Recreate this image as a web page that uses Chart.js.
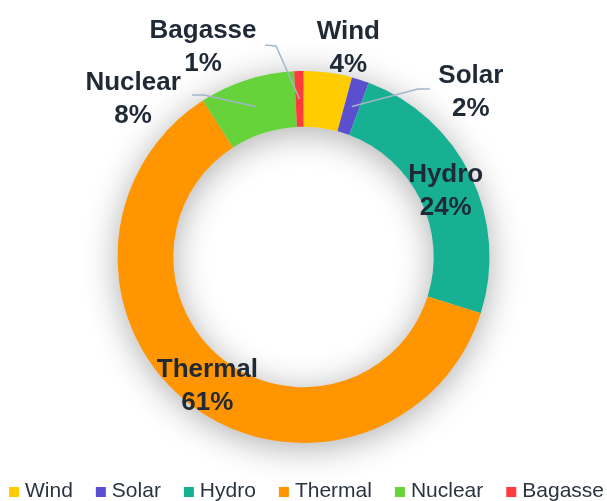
<!DOCTYPE html>
<html>
<head>
<meta charset="utf-8">
<script src="https://cdn.jsdelivr.net/npm/chart.js@4.4.1/dist/chart.umd.min.js"></script>
<style>
  html, body { margin: 0; padding: 0; background: #fff; }
  canvas { display: block; }
</style>
</head>
<body>
<canvas id="chart" width="607" height="501"></canvas>
<script>
const categories = ['Wind', 'Solar', 'Hydro', 'Thermal', 'Nuclear', 'Bagasse'];
const shares = [4.2, 1.5, 24.2, 61.0, 8.3, 0.8];
const colors = ['#ffcc00', '#5a4fcf', '#17b092', '#ff9500', '#66d33a', '#ff3b3b'];

// where each label goes, in px relative to the slice centre point
// small slices get a leader line: centre -> elbow -> end, then the text
const labelPlacement = [
  { text: [24, -55] },
  { elbow: [66, -17.5], end: [78, -17.5], text: [119, -17.5] },
  { text: [0, 0] },
  { text: [0, 0] },
  { elbow: [-51, -11.5], end: [-63, -11.5], text: [-122, -10.5] },
  { elbow: [-23.5, -53], end: [-34.5, -54], text: [-96.5, -55] },
];

const ringShadow = {
  id: 'ringShadow',
  beforeDatasetsDraw(chart) {
    const arc = chart.getDatasetMeta(0).data[0];
    if (!arc) return;
    const { x, y, outerRadius, innerRadius } = arc.getProps(['x', 'y', 'outerRadius', 'innerRadius'], true);
    const ctx = chart.ctx;
    ctx.save();
    ctx.shadowColor = 'rgba(0, 0, 0, 0.32)';
    ctx.shadowBlur = 34;
    ctx.shadowOffsetY = 5;
    ctx.fillStyle = '#dddddd';
    ctx.beginPath();
    ctx.arc(x, y, outerRadius, 0, Math.PI * 2);
    ctx.arc(x, y, innerRadius, Math.PI * 2, 0, true);
    ctx.fill();
    ctx.restore();
  }
};

const sliceLabels = {
  id: 'sliceLabels',
  afterDatasetsDraw(chart) {
    const ctx = chart.ctx;
    const total = shares.reduce((a, b) => a + b, 0);
    ctx.save();
    ctx.font = 'bold 26px "Liberation Sans", Arial, sans-serif';
    ctx.textAlign = 'center';
    ctx.textBaseline = 'alphabetic';
    chart.getDatasetMeta(0).data.forEach((arc, i) => {
      const c = arc.getCenterPoint();
      const p = labelPlacement[i];
      if (p.elbow) {
        ctx.strokeStyle = '#a3b6c9';
        ctx.lineWidth = 1.5;
        ctx.beginPath();
        ctx.moveTo(c.x, c.y);
        ctx.lineTo(c.x + p.elbow[0], c.y + p.elbow[1]);
        ctx.lineTo(c.x + p.end[0], c.y + p.end[1]);
        ctx.stroke();
      }
      const tx = c.x + p.text[0];
      const ty = c.y + p.text[1];
      ctx.fillStyle = '#1f2a36';
      ctx.fillText(categories[i], tx, ty - 6);
      ctx.fillText(Math.round(shares[i] / total * 100) + '%', tx, ty + 27);
    });
    ctx.restore();
  }
};

const bottomLegend = {
  id: 'bottomLegend',
  afterDraw(chart) {
    const ctx = chart.ctx;
    ctx.save();
    ctx.font = '21px "Liberation Sans", Arial, sans-serif';
    ctx.textBaseline = 'alphabetic';
    const box = 10, gap = 6, spacing = 23;
    const widths = categories.map(c => ctx.measureText(c).width);
    const total = widths.reduce((a, w) => a + box + gap + w, 0) + spacing * (categories.length - 1);
    let x = (chart.width - total) / 2 + 3;
    const y = chart.height - 4;
    categories.forEach((c, i) => {
      ctx.fillStyle = colors[i];
      ctx.fillRect(x, y - 10, box, box);
      ctx.fillStyle = '#2a3440';
      ctx.fillText(c, x + box + gap, y);
      x += box + gap + widths[i] + spacing;
    });
    ctx.restore();
  }
};

new Chart(document.getElementById('chart'), {
  type: 'doughnut',
  data: {
    labels: categories,
    datasets: [{
      data: shares,
      backgroundColor: colors,
      borderWidth: 0,
    }]
  },
  options: {
    responsive: false,
    animation: false,
    events: [],
    cutout: '70%',
    layout: { padding: { top: 71, bottom: 58, left: 0, right: 0 } },
    plugins: {
      legend: { display: false },
      tooltip: { enabled: false }
    }
  },
  plugins: [ringShadow, sliceLabels, bottomLegend]
});
</script>
</body>
</html>
